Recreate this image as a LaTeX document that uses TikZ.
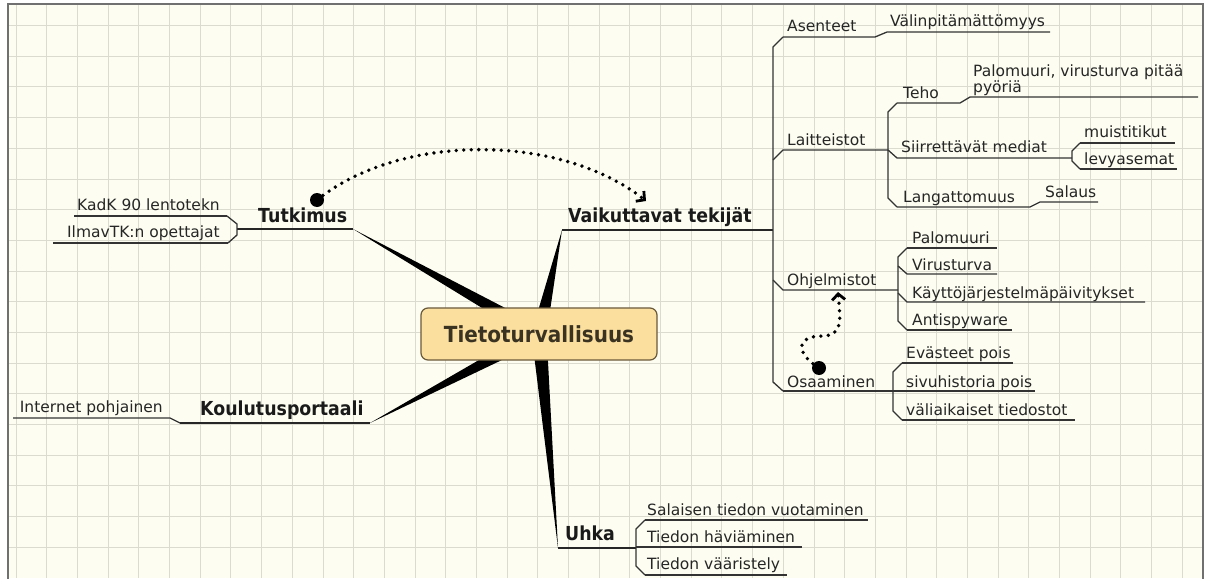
\documentclass[tikz,border=0pt]{standalone}
\usepackage{fontspec}
\setmainfont{DejaVu Sans}
\newfontfamily\topicfont[FakeStretch=0.9]{DejaVu Sans}
\usepackage{tikz}
\usetikzlibrary{calc,arrows.meta,positioning}
\definecolor{paper}{HTML}{FDFDF1}
\definecolor{gridgray}{HTML}{DBDBD0}
\definecolor{framegray}{HTML}{707070}
\definecolor{linegray}{HTML}{333333}
\definecolor{subink}{HTML}{262626}
\definecolor{topicink}{HTML}{1A1A1A}
\definecolor{centralfill}{HTML}{FBDF9E}
\definecolor{centraledge}{HTML}{6A5A3A}
\definecolor{centralink}{HTML}{3B3322}

\begin{document}
\begin{tikzpicture}[x=1pt,y=-1pt]

\tikzset{
  subtext/.style={anchor=base west, inner sep=0pt, text=subink,
                  font=\fontsize{15.5}{14}\selectfont},
  maintext/.style={anchor=base west, inner sep=0pt, text=topicink,
                  font=\topicfont\bfseries\fontsize{19.3}{20}\selectfont},
  centraltopic/.style={rounded corners=7pt, draw=centraledge, fill=centralfill,
                  line width=1.2pt, minimum width=236pt, minimum height=52pt,
                  text=centralink, font=\topicfont\bfseries\fontsize{22.2}{24}\selectfont},
  subline/.style={linegray, line width=1.3pt},
  mainline/.style={black!85, line width=1.7pt},
  wedge/.style={fill=black},
  relation/.style={black, line width=3.8pt, line cap=round,
                  dash pattern=on 0pt off 7.5pt,
                  -{Straight Barb[length=6pt, width=13pt, line width=2.8pt]}},
  reldot/.style={circle, fill=black, minimum size=14pt, inner sep=0pt},
  gridline/.style={gridgray, line width=0.8pt}
}

\newcommand{\subtopic}[4]{
  \node[subtext] (#1) at (#2,#3) {#4};
}

% Paper and grid
\useasboundingbox (0,0) rectangle (1212,578);
\fill[white] (0,0) rectangle (1212,578);
\fill[paper] (8,4) rectangle (1203,578);
\foreach \i in {0,...,38}
  \draw[gridline] ({16+30.69*\i},4) -- ({16+30.69*\i},578);
\foreach \j in {0,...,17}
  \draw[gridline] (8,{25.5+30.69*\j}) -- (1203,{25.5+30.69*\j});
\draw[framegray, line width=1.5pt] (8,4) rectangle (1203,600);

% Hub and main branches
\coordinate (hub) at (539,334);
\coordinate (tutk-end) at (353,229);
\coordinate (vaik-end) at (562,230);
\coordinate (koul-end) at (370,423);
\coordinate (uhka-end) at (558,548);
\foreach \e in {tutk-end,vaik-end,koul-end,uhka-end}
  \fill[wedge] (\e) -- ($(hub)!7.5pt!90:(\e)$) -- ($(hub)!7.5pt!-90:(\e)$) -- cycle;

\node[centraltopic] (root) at (hub) {Tietoturvallisuus};

% Tutkimus
\node[maintext] (tutk) at (258,222) {Tutkimus};
\draw[mainline] (237,229) -- (tutk-end);
\draw[subline] (227,216) -- (237,224) -- (237,235) -- (228,243);
\node[subtext, anchor=base east] (kadk) at (220,210) {KadK 90 lentotekn};
\node[subtext, anchor=base east] (ilmav) at (220,237) {IlmavTK:n opettajat};
\draw[subline] (74,216) -- (227,216);
\draw[subline] (53,243) -- (228,243);

% Koulutusportaali
\node[maintext] (koul) at (200,415) {Koulutusportaali};
\draw[mainline] (180,423) -- (koul-end);
\node[subtext, anchor=base east] (inet) at (163,412) {Internet pohjainen};
\draw[subline] (13,418) -- (170,418) -- (180,423);

% Uhka
\node[maintext] (uhka) at (565,540) {Uhka};
\draw[mainline] (uhka-end) -- (636,548);
\draw[subline] (645,520) -- (636,529) -- (636,566) -- (645,575);
\subtopic{salai}{647}{515}{Salaisen tiedon vuotaminen}
\subtopic{havia}{647}{542}{Tiedon häviäminen}
\subtopic{vaaris}{647}{569}{Tiedon vääristely}
\draw[subline] (645,520) -- (868,520);
\draw[subline] (636,547) -- (802,547);
\draw[subline] (645,575) -- (787,575);

% Vaikuttavat tekijät
\node[maintext] (vaik) at (568,222) {Vaikuttavat tekijät};
\draw[mainline] (vaik-end) -- (773,230);
\draw[subline] (783,37) -- (773,47) -- (773,382) -- (783,391);

\subtopic{asen}{787}{32}{Asenteet}
\subtopic{valin}{890}{27}{Välinpitämättömyys}
\draw[subline] (783,37) -- (875,37) -- (887,32) -- (1050,32);

\subtopic{lait}{787}{145}{Laitteistot}
\draw[subline] (773,160) -- (783,150) -- (888,150);
\draw[subline] (897,103) -- (888,112) -- (888,198) -- (897,207);
\subtopic{teho}{903}{98}{Teho}
\node[subtext, anchor=south west, align=left] (palvir) at (973,96)
  {Palomuuri, virusturva pitää\\pyöriä};
\draw[subline] (897,103) -- (960,103) -- (970,97) -- (1198,97);
\subtopic{siirr}{901}{152}{Siirrettävät mediat}
\draw[subline] (888,150) -- (897,158) -- (1072,158);
\draw[subline] (1080,143) -- (1072,151) -- (1072,161) -- (1080,169);
\subtopic{muist}{1084}{137}{muistitikut}
\subtopic{levy}{1084}{164}{levyasemat}
\draw[subline] (1080,143) -- (1175,143);
\draw[subline] (1080,169) -- (1177,169);
\subtopic{lang}{903}{202}{Langattomuus}
\subtopic{sala}{1045}{197}{Salaus}
\draw[subline] (897,207) -- (1030,207) -- (1040,202) -- (1098,202);

\subtopic{ohj}{787}{285}{Ohjelmistot}
\draw[subline] (773,280) -- (783,290) -- (898,290);
\draw[subline] (907,248) -- (898,257) -- (898,321) -- (907,330);
\subtopic{palo}{912}{243}{Palomuuri}
\subtopic{viru}{912}{270}{Virusturva}
\subtopic{kayt}{912}{298}{Käyttöjärjestelmäpäivitykset}
\subtopic{anti}{912}{325}{Antispyware}
\draw[subline] (907,248) -- (997,248);
\draw[subline] (898,266) -- (907,274) -- (997,274);
\draw[subline] (898,293) -- (907,302) -- (1145,302);
\draw[subline] (907,330) -- (1012,330);

\subtopic{osaa}{787}{387}{Osaaminen}
\draw[subline] (783,391) -- (893,391);
\draw[subline] (902,363) -- (893,372) -- (893,411) -- (902,420);
\subtopic{evas}{906}{358}{Evästeet pois}
\subtopic{sivu}{906}{387}{sivuhistoria pois}
\subtopic{vali}{906}{415}{väliaikaiset tiedostot}
\draw[subline] (902,363) -- (1013,363);
\draw[subline] (893,391) -- (1035,391);
\draw[subline] (902,420) -- (1075,420);

% Relations
\node[reldot] (rel1start) at (317,200) {};
\coordinate (rel1end) at (646,201);
\draw[relation] (rel1start.center) .. controls (400,133) and (560,133) .. (rel1end);

\node[reldot] (rel2start) at (819,368) {};
\coordinate (rel2end) at (838,292);
\draw[relation] (rel2start.center) .. controls (794,352) and (797,336) .. (822,336)
  .. controls (844,336) and (840,318) .. (rel2end);

\end{tikzpicture}
\end{document}
